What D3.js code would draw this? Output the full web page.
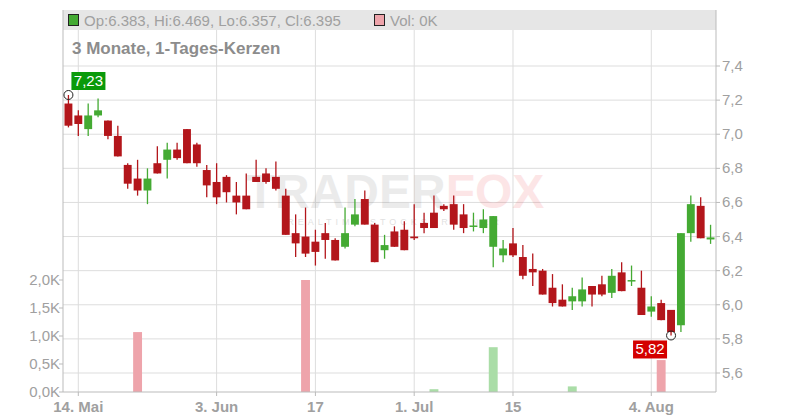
<!DOCTYPE html>
<html><head><meta charset="utf-8">
<script src="https://cdn.jsdelivr.net/npm/d3@7"></script>
<style>body{margin:0;background:#fff}text{font-family:"Liberation Sans",Arial,sans-serif}</style>
</head><body><div id="chart"></div>
<script>
// OHLC per trading day
const opens  = [7.18,7.11,7.03,7.11,7.08,6.99,6.82,6.74,6.67,6.83,6.85,6.91,7.03,6.94,6.79,6.72,6.75,6.64,6.64,6.75,6.77,6.75,6.64,6.42,6.40,6.37,6.42,6.38,6.34,6.47,6.62,6.47,6.32,6.43,6.44,6.40,6.48,6.54,6.58,6.59,6.53,6.46,6.45,6.34,6.29,6.36,6.28,6.21,6.20,6.10,6.03,6.02,6.02,6.11,6.12,6.07,6.19,6.14,6.10,5.96,6.01,5.97,5.88,6.42,6.58,6.383];
const highs  = [7.23,7.14,7.18,7.21,7.08,7.05,6.83,6.85,6.80,6.93,6.95,6.95,7.03,6.95,6.82,6.83,6.76,6.72,6.77,6.85,6.80,6.84,6.68,6.53,6.57,6.44,6.48,6.39,6.57,6.62,6.67,6.48,6.41,6.46,6.49,6.59,6.54,6.64,6.59,6.64,6.59,6.54,6.56,6.52,6.38,6.45,6.35,6.30,6.21,6.18,6.12,6.10,6.16,6.11,6.17,6.21,6.25,6.23,6.20,6.05,6.03,5.97,6.42,6.64,6.63,6.469];
const lows   = [7.04,6.99,6.99,7.10,6.97,6.87,6.68,6.64,6.59,6.77,6.74,6.85,6.83,6.81,6.63,6.59,6.60,6.53,6.56,6.72,6.71,6.67,6.41,6.28,6.28,6.23,6.27,6.26,6.33,6.46,6.47,6.25,6.27,6.34,6.32,6.38,6.42,6.45,6.55,6.44,6.42,6.43,6.42,6.22,6.25,6.28,6.15,6.11,6.06,5.99,5.99,5.97,5.99,5.99,6.05,6.04,6.08,6.11,5.94,5.93,5.91,5.82,5.84,6.37,6.39,6.357];
const closes = [7.05,7.06,7.11,7.14,6.99,6.87,6.71,6.67,6.74,6.77,6.91,6.86,6.83,6.83,6.70,6.63,6.66,6.60,6.56,6.72,6.72,6.68,6.41,6.36,6.30,6.31,6.38,6.26,6.42,6.53,6.47,6.25,6.35,6.34,6.32,6.39,6.45,6.45,6.56,6.47,6.45,6.465,6.50,6.52,6.33,6.29,6.17,6.19,6.06,6.01,5.99,6.05,6.09,6.06,6.06,6.17,6.08,6.145,5.94,5.99,5.91,5.84,6.42,6.59,6.39,6.395];
// volume (in K) on the few days that traded
const volDays   = [7, 24, 37, 43, 51, 60];
const volValues = [1.07, 2.0, 0.05, 0.80, 0.10, 0.57];
const volUp     = [false, false, true, true, true, false];
const priceTicks = [5.6,5.8,6.0,6.2,6.4,6.6,6.8,7.0,7.2,7.4];
const volTicks = [0,0.5,1.0,1.5,2.0];
const dateTicks = [[1,"14. Mai"],[15,"3. Jun"],[25,"17"],[35,"1. Jul"],[45,"15"],[59,"4. Aug"]];

const W = 800, H = 420, mLeft = 63, mRight = 716, mTop = 10, mBottom = 392;
const red = "#b3161b", green = "#44aa33", grid = "#dddddd", txt = "#a0a0a0";
const fmt = v => d3.format(".1f")(v).replace(".", ",");
const fmt2 = v => d3.format(".2f")(v).replace(".", ",");

const svg = d3.select("#chart").append("svg").attr("width", W).attr("height", H);
const x = d3.scaleBand().domain(d3.range(opens.length)).range([mLeft, mRight]).padding(0.1);
const cx = i => x(i) + x.bandwidth() / 2;
const y = d3.scaleLinear().domain([5.6, 7.4]).range([373, 66]);
const yv = d3.scaleLinear().domain([0, 2]).range([mBottom, 280]);

// grid
svg.selectAll(".hg").data(priceTicks).join("line")
  .attr("x1", mLeft).attr("x2", mRight).attr("y1", d => y(d)).attr("y2", d => y(d))
  .attr("stroke", grid);
svg.selectAll(".vg").data(dateTicks).join("line")
  .attr("x1", d => cx(d[0])).attr("x2", d => cx(d[0])).attr("y1", mTop).attr("y2", mBottom)
  .attr("stroke", grid);

// watermark
const wm = svg.append("text").attr("x", 395).attr("y", 208).attr("text-anchor", "middle")
  .attr("font-size", 48).attr("font-weight", "bold").attr("opacity", 0.12);
wm.append("tspan").attr("fill", "#666").text("TRADER");
wm.append("tspan").attr("fill", "#e8323c").text("FOX");
svg.append("text").attr("x", 395).attr("y", 225).attr("text-anchor", "middle")
  .attr("font-size", 9).attr("letter-spacing", 4).attr("fill", "#aaa").attr("opacity", 0.35)
  .text("REALTIME STOCKSCREENER");

// header band
svg.append("rect").attr("x", mLeft).attr("y", mTop).attr("width", mRight - mLeft).attr("height", 20).attr("fill", "#e6e6e6");
svg.append("rect").attr("x", 68.5).attr("y", 14.5).attr("width", 10).attr("height", 11).attr("fill", green).attr("stroke", "#222");
svg.append("text").attr("x", 84).attr("y", 26).attr("font-size", 15).attr("fill", txt).text("Op:6.383, Hi:6.469, Lo:6.357, Cl:6.395");
svg.append("rect").attr("x", 374.5).attr("y", 14.5).attr("width", 10).attr("height", 11).attr("fill", "#eea4ab").attr("stroke", "#222");
svg.append("text").attr("x", 390).attr("y", 26).attr("font-size", 15).attr("fill", txt).text("Vol: 0K");
svg.append("text").attr("x", 72).attr("y", 54).attr("font-size", 17).attr("font-weight", "bold").attr("fill", "#8c8c8c").text("3 Monate, 1-Tages-Kerzen");

// volume bars
svg.selectAll(".vol").data(volDays).join("rect")
  .attr("x", d => x(d)).attr("width", x.bandwidth())
  .attr("y", (d, i) => yv(volValues[i])).attr("height", (d, i) => mBottom - yv(volValues[i]))
  .attr("fill", (d, i) => volUp[i] ? "#aadda7" : "#eea4ab");

// candles
const idx = d3.range(opens.length);
const col = i => closes[i] >= opens[i] ? green : red;
svg.selectAll(".wick").data(idx).join("line")
  .attr("x1", cx).attr("x2", cx).attr("y1", i => y(highs[i])).attr("y2", i => y(lows[i]))
  .attr("stroke", col).attr("stroke-width", 1.3);
svg.selectAll(".body").data(idx).join("rect")
  .attr("x", i => x(i) + 0.5).attr("width", x.bandwidth() - 1)
  .attr("y", i => y(Math.max(opens[i], closes[i])))
  .attr("height", i => Math.max(1.5, Math.abs(y(opens[i]) - y(closes[i]))))
  .attr("fill", col);

// axes frame
svg.append("line").attr("x1", mLeft).attr("x2", mLeft).attr("y1", mTop).attr("y2", mBottom).attr("stroke", "#bbb");
svg.append("line").attr("x1", mRight).attr("x2", mRight).attr("y1", mTop).attr("y2", mBottom).attr("stroke", "#bbb");
svg.append("line").attr("x1", mLeft).attr("x2", mRight).attr("y1", mBottom).attr("y2", mBottom).attr("stroke", "#bbb");

svg.selectAll(".pt").data(priceTicks).join("text")
  .attr("x", 722).attr("y", d => y(d) + 5).attr("font-size", 15).attr("fill", txt).text(fmt);
svg.selectAll(".ptk").data(priceTicks).join("line")
  .attr("x1", mRight).attr("x2", mRight + 4).attr("y1", d => y(d)).attr("y2", d => y(d)).attr("stroke", "#bbb");
svg.selectAll(".vt").data(volTicks).join("text")
  .attr("x", 60).attr("y", d => yv(d) + 5).attr("text-anchor", "end").attr("font-size", 15).attr("fill", txt)
  .text(d => fmt(d) + "K");
svg.selectAll(".vtk").data(volTicks).join("line")
  .attr("x1", mLeft - 4).attr("x2", mLeft).attr("y1", d => yv(d)).attr("y2", d => yv(d)).attr("stroke", "#bbb");
svg.selectAll(".dt").data(dateTicks).join("text")
  .attr("x", d => cx(d[0])).attr("y", 412).attr("text-anchor", "middle")
  .attr("font-size", 15).attr("font-weight", "bold").attr("fill", txt).text(d => d[1]);
svg.selectAll(".dtk").data(dateTicks).join("line")
  .attr("x1", d => cx(d[0])).attr("x2", d => cx(d[0])).attr("y1", mBottom).attr("y2", mBottom + 4).attr("stroke", "#bbb");

// high / low markers
const hiI = d3.maxIndex(highs), loI = d3.minIndex(lows);
svg.append("circle").attr("cx", cx(hiI)).attr("cy", y(highs[hiI])).attr("r", 4.5).attr("fill", "none").attr("stroke", "#222");
svg.append("rect").attr("x", cx(hiI) + 3).attr("y", y(highs[hiI]) - 23).attr("width", 34).attr("height", 18).attr("fill", "#0a9a0a");
svg.append("text").attr("x", cx(hiI) + 20).attr("y", y(highs[hiI]) - 9).attr("text-anchor", "middle")
  .attr("font-size", 15).attr("fill", "#fff").text(fmt2(highs[hiI]));
svg.append("circle").attr("cx", cx(loI)).attr("cy", y(lows[loI])).attr("r", 4.5).attr("fill", "none").attr("stroke", "#222");
svg.append("rect").attr("x", cx(loI) - 38).attr("y", y(lows[loI]) + 5).attr("width", 34).attr("height", 18).attr("fill", "#d40000");
svg.append("text").attr("x", cx(loI) - 21).attr("y", y(lows[loI]) + 19).attr("text-anchor", "middle")
  .attr("font-size", 15).attr("fill", "#fff").text(fmt2(lows[loI]));
</script></body></html>
